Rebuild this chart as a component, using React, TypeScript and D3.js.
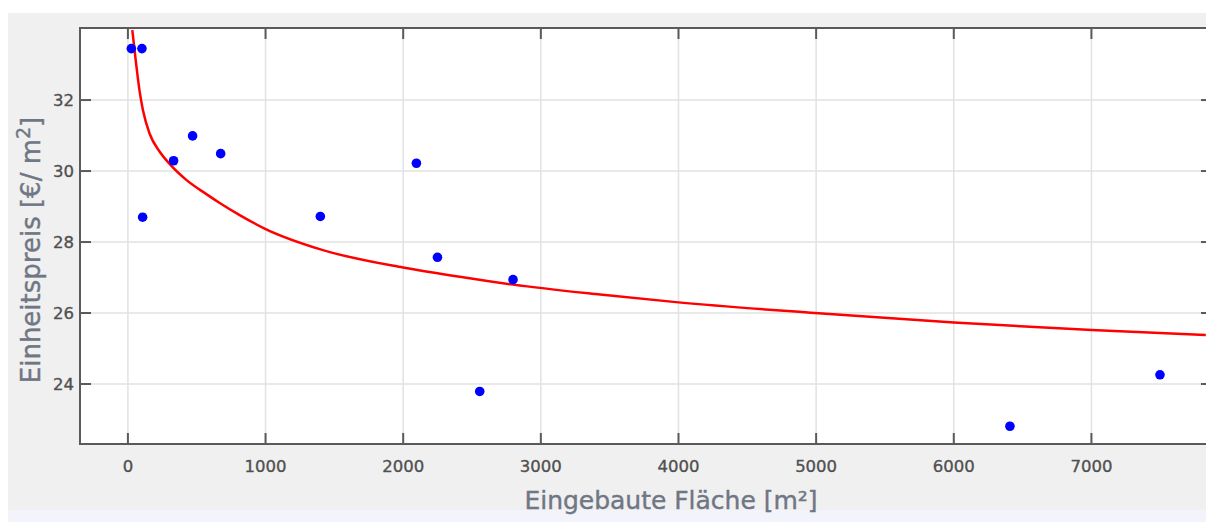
import React, { useEffect, useRef } from "react";
import * as d3 from "d3";

// measured points (area in m², unit price in €/m²)
const areaValues = [25, 102, 107, 332, 470, 674, 1398, 2096, 2249, 2556, 2798, 6408, 7498];
const priceValues = [33.45, 33.45, 28.7, 30.29, 30.99, 30.49, 28.72, 30.22, 27.57, 23.79, 26.94, 22.81, 24.26];

// fitted curve
const fitArea = [32, 61, 85, 109, 158, 230, 303, 424, 570, 667, 812, 993, 1393, 1999, 2411, 2798, 3431, 4000, 4991, 6001, 7002, 7831];
const fitPrice = [33.97, 32.98, 32.25, 31.72, 31.05, 30.55, 30.2, 29.75, 29.35, 29.1, 28.76, 28.38, 27.8, 27.28, 27.02, 26.8, 26.52, 26.3, 26.0, 25.73, 25.52, 25.38];

const xTicks = [0, 1000, 2000, 3000, 4000, 5000, 6000, 7000];
const yTicks = [24, 26, 28, 30, 32];

const xTitle = "Eingebaute Fläche [m²]";
const yTitle = "Einheitspreis [€/ m";

function drawChart(node: SVGSVGElement) {
    const width = 1206;
    const height = 522;
    const plot = { left: 80, top: 28, right: 1212, bottom: 444 };

    const svg = d3.select(node);
    svg.selectAll("*").remove();

    // page backgrounds
    svg.append("rect").attr("width", width).attr("height", height).attr("fill", "#ffffff");
    svg.append("rect").attr("x", 8).attr("y", 13).attr("width", width - 8).attr("height", 497).attr("fill", "#f0f0f0");
    svg.append("rect").attr("x", 8).attr("y", 510).attr("width", width - 8).attr("height", 12).attr("fill", "#f3f3fb");

    const xScale = d3.scaleLinear().domain([-348, 7876]).range([plot.left, plot.right]);
    const yScale = d3.scaleLinear().domain([22.31, 34.03]).range([plot.bottom, plot.top]);

    svg.append("rect")
        .attr("x", plot.left)
        .attr("y", plot.top)
        .attr("width", plot.right - plot.left)
        .attr("height", plot.bottom - plot.top)
        .attr("fill", "#ffffff");

    const defs = svg.append("defs");
    defs.append("clipPath").attr("id", "plotClip")
        .append("rect")
        .attr("x", plot.left)
        .attr("y", plot.top)
        .attr("width", plot.right - plot.left)
        .attr("height", plot.bottom - plot.top);

    // grid
    const grid = svg.append("g").attr("stroke", "#e2e2e2").attr("stroke-width", 1.5);
    xTicks.forEach(t => {
        grid.append("line")
            .attr("x1", xScale(t)).attr("x2", xScale(t))
            .attr("y1", plot.top).attr("y2", plot.bottom);
    });
    yTicks.forEach(t => {
        grid.append("line")
            .attr("x1", plot.left).attr("x2", plot.right)
            .attr("y1", yScale(t)).attr("y2", yScale(t));
    });

    // frame + ticks
    const axisColor = "#5a5a5a";
    const frame = svg.append("g").attr("stroke", axisColor).attr("stroke-width", 2);
    frame.append("rect")
        .attr("x", plot.left)
        .attr("y", plot.top)
        .attr("width", plot.right - plot.left)
        .attr("height", plot.bottom - plot.top)
        .attr("fill", "none");
    const tickLen = 11;
    xTicks.forEach(t => {
        const x = xScale(t);
        frame.append("line").attr("x1", x).attr("x2", x).attr("y1", plot.bottom).attr("y2", plot.bottom - tickLen);
        frame.append("line").attr("x1", x).attr("x2", x).attr("y1", plot.top).attr("y2", plot.top + tickLen);
    });
    yTicks.forEach(t => {
        const y = yScale(t);
        frame.append("line").attr("x1", plot.left).attr("x2", plot.left + tickLen).attr("y1", y).attr("y2", y);
        frame.append("line").attr("x1", plot.right).attr("x2", plot.right - tickLen).attr("y1", y).attr("y2", y);
    });

    // tick labels
    const labels = svg.append("g")
        .attr("font-family", "DejaVu Sans, sans-serif")
        .attr("font-size", 16.5)
        .attr("fill", "#505050")
        .attr("stroke", "#505050")
        .attr("stroke-width", 0.35);
    xTicks.forEach(t => {
        labels.append("text")
            .attr("x", xScale(t))
            .attr("y", 472)
            .attr("text-anchor", "middle")
            .text(t);
    });
    yTicks.forEach(t => {
        labels.append("text")
            .attr("x", 74)
            .attr("y", yScale(t))
            .attr("dy", "0.37em")
            .attr("text-anchor", "end")
            .text(t);
    });

    // fitted curve
    const fit = fitArea.map((a, i) => ({ a, p: fitPrice[i] }));
    const line = d3.line<{ a: number; p: number }>()
        .x(d => xScale(d.a))
        .y(d => yScale(d.p))
        .curve(d3.curveMonotoneX);
    svg.append("path")
        .attr("clip-path", "url(#plotClip)")
        .attr("d", line(fit))
        .attr("fill", "none")
        .attr("stroke", "#ff0000")
        .attr("stroke-width", 2.5);

    // measured points
    svg.append("g")
        .selectAll("circle")
        .data(areaValues)
        .join("circle")
        .attr("cx", d => xScale(d))
        .attr("cy", (d, i) => yScale(priceValues[i]))
        .attr("r", 4.8)
        .attr("fill", "#0000ff");

    // axis titles
    const titleColor = "#6f7684";
    svg.append("text")
        .attr("x", 671)
        .attr("y", 509)
        .attr("text-anchor", "middle")
        .attr("font-family", "DejaVu Sans, sans-serif")
        .attr("font-size", 25)
        .attr("fill", titleColor)
        .attr("stroke", titleColor)
        .attr("stroke-width", 0.4)
        .attr("textLength", 293)
        .text(xTitle);

    const yt = svg.append("text")
        .attr("transform", "translate(40,250) rotate(-90)")
        .attr("text-anchor", "middle")
        .attr("font-family", "DejaVu Sans, sans-serif")
        .attr("font-size", 26)
        .attr("fill", titleColor)
        .attr("stroke", titleColor)
        .attr("stroke-width", 0.4);
    yt.append("tspan").text(yTitle);
    yt.append("tspan").attr("dy", -10).attr("font-size", 19).text("2");
    yt.append("tspan").attr("dy", 10).text("]");
}

export default function App() {
    const ref = useRef<SVGSVGElement>(null);

    useEffect(() => {
        if (ref.current) drawChart(ref.current);
    }, []);

    return (
        <svg
            ref={ref}
            width={1206}
            height={522}
            style={{ position: "absolute", left: 0, top: 0, display: "block" }}
        />
    );
}
